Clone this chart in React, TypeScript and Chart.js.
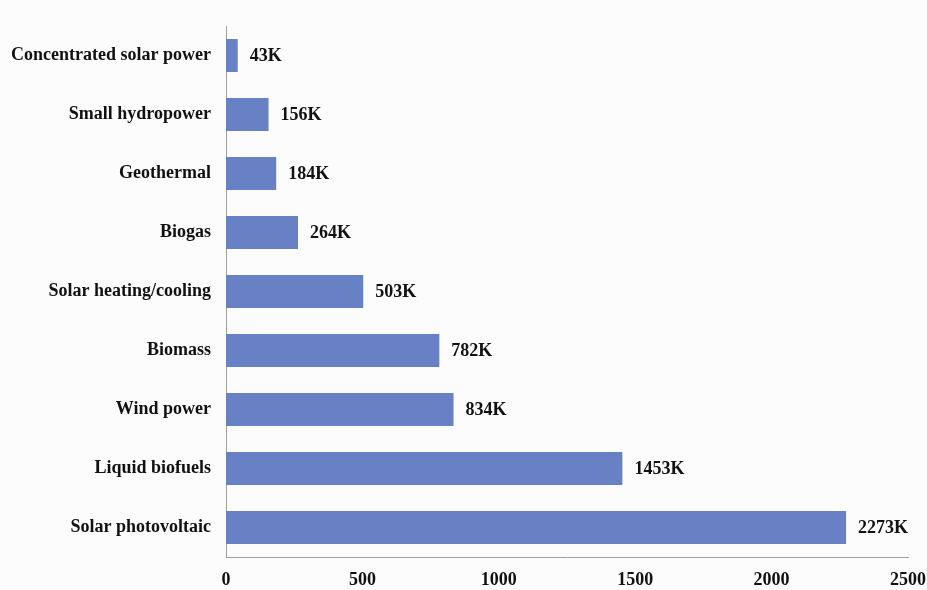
import React, { useEffect, useRef } from "react";
import { Chart, registerables } from "chart.js";

Chart.register(...registerables);

const categories = [
  "Concentrated solar power",
  "Small hydropower",
  "Geothermal",
  "Biogas",
  "Solar heating/cooling",
  "Biomass",
  "Wind power",
  "Liquid biofuels",
  "Solar photovoltaic",
];
const jobs = [43, 156, 184, 264, 503, 782, 834, 1453, 2273];
const valueLabels = ["43K", "156K", "184K", "264K", "503K", "782K", "834K", "1453K", "2273K"];
const xTicks = [0, 500, 1000, 1500, 2000, 2500];

const FONT = "'Liberation Serif', 'Times New Roman', serif";

const labelPlugin = {
  id: "barValueLabels",
  afterDatasetsDraw(chart: any) {
    const ctx = chart.ctx;
    const meta = chart.getDatasetMeta(0);
    ctx.save();
    ctx.font = `bold 18px ${FONT}`;
    ctx.fillStyle = "#111";
    ctx.textAlign = "left";
    ctx.textBaseline = "middle";
    meta.data.forEach((bar: any, i: number) => {
      ctx.fillText(valueLabels[i], bar.x + 12, bar.y + 1);
    });
    ctx.restore();
  },
};

const bgPlugin = {
  id: "bg",
  beforeDraw(chart: any) {
    const ctx = chart.ctx;
    ctx.save();
    ctx.fillStyle = "#fcfcfc";
    ctx.fillRect(0, 0, chart.width, chart.height);
    ctx.restore();
  },
};

export default function App() {
  const ref = useRef<HTMLCanvasElement>(null);
  useEffect(() => {
    document.body.style.margin = "0";
    const chart = new Chart(ref.current!, {
      type: "bar",
      data: {
        labels: categories,
        datasets: [
          {
            data: jobs,
            backgroundColor: "#6880c4",
            barPercentage: 0.56,
            categoryPercentage: 1,
          },
        ],
      },
      plugins: [bgPlugin, labelPlugin],
      options: {
        indexAxis: "y",
        animation: false,
        responsive: false,
        layout: { padding: { top: 26, right: 0, left: 0, bottom: 0 } },
        plugins: { legend: { display: false }, tooltip: { enabled: false } },
        scales: {
          x: {
            min: 0,
            max: 2500,
            afterBuildTicks(scale: any) {
              scale.ticks = xTicks.map((v) => ({ value: v }));
            },
            afterFit(scale: any) {
              scale.height = 33;
              scale.paddingLeft = 0;
              scale.paddingRight = 19;
            },
            grid: { display: false, drawTicks: false },
            border: { display: true, color: "#a0a0a0", width: 1 },
            ticks: {
              padding: 13,
              color: "#111",
              font: { family: FONT, size: 18, weight: "bold" },
              callback: (v: any) => String(v),
            },
          },
          y: {
            afterFit(scale: any) {
              scale.width = 226;
              scale.paddingTop = 0;
              scale.paddingBottom = 0;
            },
            grid: { display: false, drawTicks: false },
            border: { display: true, color: "#a0a0a0", width: 1 },
            ticks: {
              padding: 15,
              color: "#111",
              font: { family: FONT, size: 18, weight: "bold" },
            },
          },
        },
      },
    } as any);
    return () => chart.destroy();
  }, []);
  return (
    <div style={{ width: 927, height: 590 }}>
      <canvas ref={ref} width={927} height={590} style={{ display: "block" }} />
    </div>
  );
}
